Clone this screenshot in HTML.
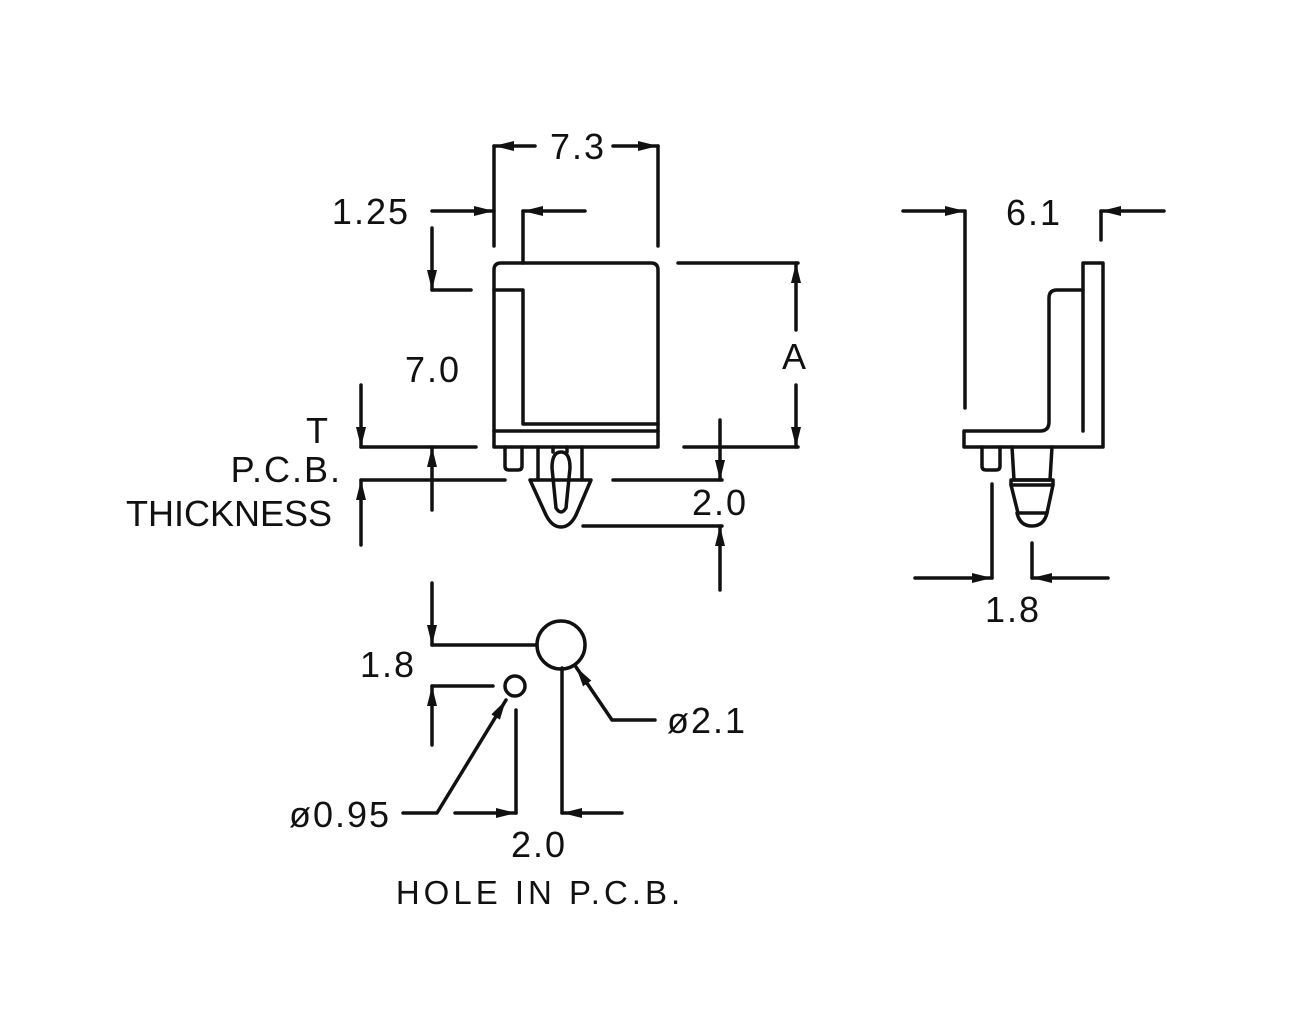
<!DOCTYPE html>
<html><head><style>html,body{margin:0;padding:0;background:#fff}svg{display:block}text{font-family:"Liberation Sans",sans-serif;font-size:36px;fill:#111;letter-spacing:2px}</style></head><body>
<svg width="1307" height="1034" viewBox="0 0 1307 1034" xmlns="http://www.w3.org/2000/svg">
<defs>
<marker id="a" viewBox="0 0 20 10" refX="20" refY="5" markerWidth="20" markerHeight="10" markerUnits="userSpaceOnUse" orient="auto"><path d="M0,0 L20,5 L0,10 Z" fill="#111"/></marker>
</defs>
<g fill="none" stroke="#111" stroke-width="3.5" stroke-linecap="round" stroke-linejoin="round">
<path d="M494,270 Q494,263 501,263 L651,263 Q658,263 658,270 L658,447 L494,447 Z"/>
<path d="M494,290 L523,290 L523,424 L658,424"/>
<line x1="494" y1="431" x2="658" y2="431"/>
<path d="M505,447 L505,466 Q505,470 509,470 L518,470 Q522,470 522,466 L522,447"/>
<line x1="538" y1="447" x2="538" y2="480"/>
<line x1="582" y1="447" x2="582" y2="480"/>
<path d="M553,447 L553,452 M567,447 L567,452"/>
<path d="M552,468 Q552,452 561,452 Q570,452 570,468 L566,508 Q561,516 556,508 Z"/>
<path d="M530,480 L591,480 L576,515 Q570,527 561,527 Q552,527 546,515 Z"/>
<line x1="494" y1="146" x2="494" y2="246"/>
<line x1="658" y1="146" x2="658" y2="246"/>
<line x1="535" y1="146" x2="494" y2="146" marker-end="url(#a)"/>
<line x1="613" y1="146" x2="658" y2="146" marker-end="url(#a)"/>
<line x1="432" y1="211" x2="494" y2="211" marker-end="url(#a)"/>
<line x1="523" y1="211" x2="523" y2="263"/>
<line x1="585" y1="211" x2="523" y2="211" marker-end="url(#a)"/>
<line x1="432" y1="228" x2="432" y2="290" marker-end="url(#a)"/>
<line x1="432" y1="290" x2="471" y2="290"/>
<line x1="678" y1="263" x2="798" y2="263"/>
<line x1="684" y1="447" x2="798" y2="447"/>
<line x1="796" y1="330" x2="796" y2="263" marker-end="url(#a)"/>
<line x1="796" y1="385" x2="796" y2="447" marker-end="url(#a)"/>
<line x1="361" y1="385" x2="361" y2="447" marker-end="url(#a)"/>
<line x1="361" y1="447" x2="476" y2="447"/>
<line x1="361" y1="480" x2="505" y2="480"/>
<line x1="432" y1="510" x2="432" y2="447" marker-end="url(#a)"/>
<line x1="361" y1="545" x2="361" y2="480" marker-end="url(#a)"/>
<line x1="613" y1="480" x2="722" y2="480"/>
<line x1="583" y1="526" x2="722" y2="526"/>
<line x1="720" y1="420" x2="720" y2="480" marker-end="url(#a)"/>
<line x1="720" y1="590" x2="720" y2="526" marker-end="url(#a)"/>
<path d="M1083,263 L1103,263 L1103,447 L964,447 L964,431 L1040,431 Q1049,431 1049,422 L1049,298 Q1049,290 1057,290 L1083,290 Z"/>
<line x1="1083" y1="290" x2="1083" y2="431"/>
<path d="M982,447 L982,466 Q982,470 986,470 L996,470 Q1000,470 1000,466 L1000,447"/>
<path d="M1012,447 L1014,480 L1050,480 L1052,447"/>
<path d="M1011,480 L1053,480 L1053,485 L1011,485 Z"/>
<path d="M1011,485 L1018,513 L1047,513 L1053,485"/>
<path d="M1017,513 Q1020,526 1032,526 Q1044,526 1047,513"/>
<line x1="965" y1="211" x2="965" y2="408"/>
<line x1="903" y1="211" x2="965" y2="211" marker-end="url(#a)"/>
<line x1="1101" y1="211" x2="1101" y2="240"/>
<line x1="1164" y1="211" x2="1101" y2="211" marker-end="url(#a)"/>
<line x1="992" y1="484" x2="992" y2="578"/>
<line x1="1032" y1="543" x2="1032" y2="578"/>
<line x1="915" y1="578" x2="992" y2="578" marker-end="url(#a)"/>
<line x1="1108" y1="578" x2="1032" y2="578" marker-end="url(#a)"/>
<circle cx="561" cy="645" r="24"/>
<circle cx="515" cy="686" r="10"/>
<line x1="432" y1="583" x2="432" y2="645" marker-end="url(#a)"/>
<line x1="432" y1="645" x2="537" y2="645"/>
<line x1="432" y1="686" x2="493" y2="686"/>
<line x1="432" y1="745" x2="432" y2="686" marker-end="url(#a)"/>
<line x1="562" y1="668" x2="562" y2="813"/>
<line x1="516" y1="710" x2="516" y2="813"/>
<line x1="455" y1="813" x2="516" y2="813" marker-end="url(#a)"/>
<line x1="622" y1="813" x2="562" y2="813" marker-end="url(#a)"/>
<path d="M655,720 L612,720 L576,667" marker-end="url(#a)"/>
<path d="M403,813 L437,813 L506,700" marker-end="url(#a)"/>
</g>
<text x="578" y="159" text-anchor="middle">7.3</text>
<text x="410" y="224" text-anchor="end">1.25</text>
<text x="433" y="382" text-anchor="middle">7.0</text>
<text x="795" y="369" text-anchor="middle">A</text>
<text x="330" y="443" text-anchor="end">T</text>
<text x="342" y="482" text-anchor="end">P.C.B.</text>
<text x="332" y="526" text-anchor="end" style="letter-spacing:0px">THICKNESS</text>
<text x="720" y="515" text-anchor="middle">2.0</text>
<text x="1034" y="225" text-anchor="middle">6.1</text>
<text x="1013" y="622" text-anchor="middle">1.8</text>
<text x="388" y="677" text-anchor="middle">1.8</text>
<text x="707" y="733" text-anchor="middle">ø2.1</text>
<text x="340" y="827" text-anchor="middle">ø0.95</text>
<text x="539" y="857" text-anchor="middle">2.0</text>
<text x="540" y="904" text-anchor="middle" style="letter-spacing:4px;font-size:33px">HOLE IN P.C.B.</text>
</svg>
</body></html>
